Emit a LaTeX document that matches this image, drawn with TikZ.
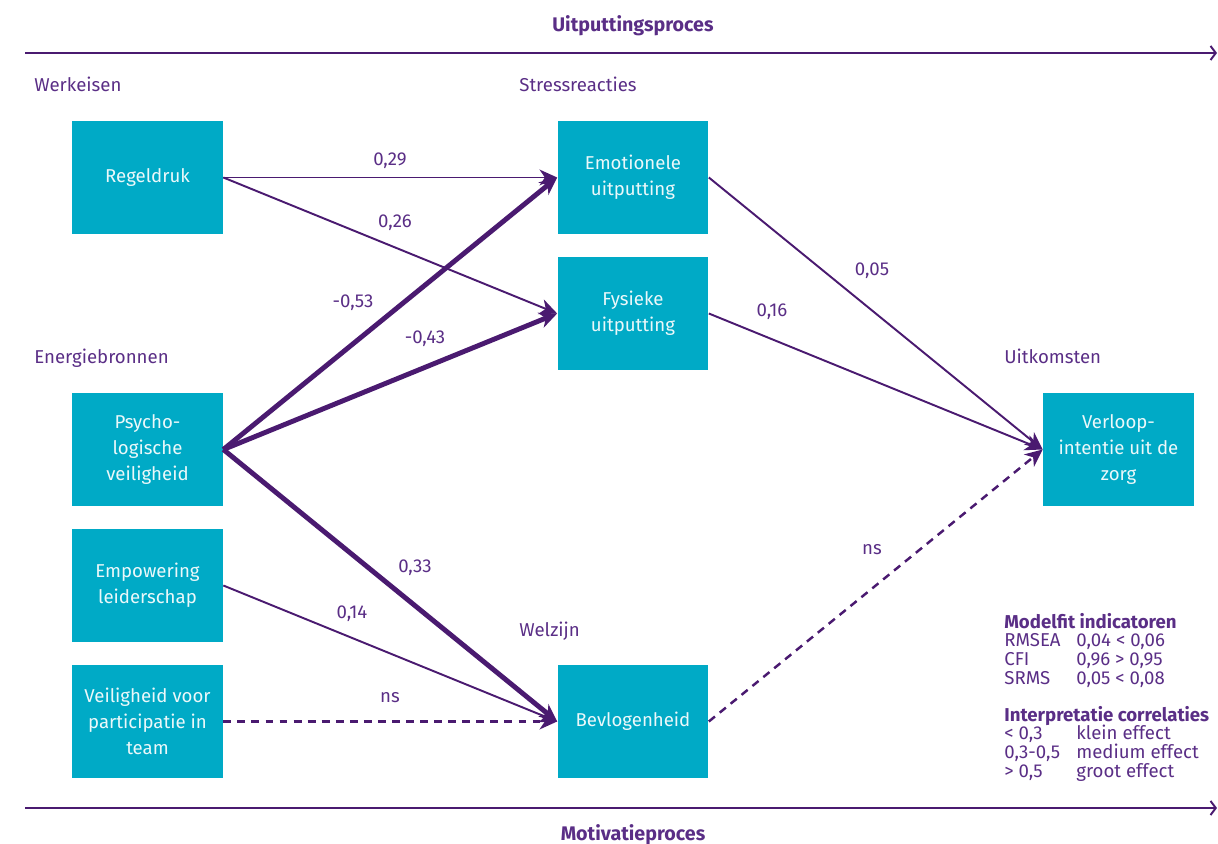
\documentclass[tikz,border=0pt]{standalone}
\usepackage{fontspec}
\setmainfont{Fira Sans}
\usetikzlibrary{arrows.meta,positioning}
\definecolor{boxblue}{HTML}{00AAC6}
\definecolor{deeppurple}{HTML}{4A1A70}
\definecolor{textpurple}{HTML}{5A2E86}
\tikzset{>={Stealth[length=10pt,width=9pt,inset=3pt]}}
\tikzset{factor/.style={fill=boxblue, text=white!92!boxblue, minimum width=3.02cm, minimum height=2.26cm,
    inner sep=0pt, align=center, font=\fontsize{10.6}{14.7}\selectfont}}
\tikzset{group/.style={anchor=base west, text=textpurple, inner sep=0pt, font=\fontsize{10.6}{12}\selectfont}}
\tikzset{coef/.style={text=textpurple, inner sep=0pt, font=\fontsize{10.6}{12}\selectfont}}
\tikzset{effect/.style={->, draw=deeppurple, line width=1.1pt}}
\tikzset{strongeffect/.style={->, draw=deeppurple, line width=2.8pt}}
\tikzset{nseffect/.style={->, draw=deeppurple, line width=1.4pt, dash pattern=on 4.5pt off 3.5pt}}
\tikzset{process/.style={-{Straight Barb[length=3pt,width=8pt]}, draw=deeppurple, line width=1.1pt}}

\begin{document}
\begin{tikzpicture}[x=0.02cm, y=-0.02cm]
      \useasboundingbox (0,0) rectangle (1218,844);
      % processes
      \node[coef, font=\fontsize{11.2}{12}\selectfont\bfseries] (uit) at (633,26) {Uitputtingsproces};
      \node[coef, font=\fontsize{11.2}{12}\selectfont\bfseries] (mot) at (633,835) {Motivatieproces};
      \coordinate (ua) at (25,53);
      \coordinate (ub) at (1217,53);
      \coordinate (ma) at (25,808);
      \coordinate (mb) at (1217,808);
      \draw[process] (ua) -- (ub);
      \draw[process] (ma) -- (mb);
      % group headers
      \node[group] (werk) at (34,92) {Werkeisen};
      \node[group] (stress) at (519,92) {Stressreacties};
      \node[group] (energie) at (34,364) {Energiebronnen};
      \node[group] (uitk) at (1004,364) {Uitkomsten};
      \node[group] (welzijn) at (519,637) {Welzijn};
      % factors
      \node[factor] (reg) at (147.5,177.5) {Regeldruk};
      \node[factor] (psy) at (147.5,449.5) {Psycho-\\logische\\veiligheid};
      \node[factor] (emp) at (147.5,585.5) {Empowering\\leiderschap};
      \node[factor] (vei) at (147.5,721.5) {Veiligheid voor\\participatie in\\team};
      \node[factor] (emo) at (633,177.5) {Emotionele\\uitputting};
      \node[factor] (fys) at (633,313.5) {Fysieke\\uitputting};
      \node[factor] (bev) at (633,721.5) {Bevlogenheid};
      \node[factor] (ver) at (1118.5,449.5) {Verloop-\\intentie uit de\\zorg};
      % paths
      \draw[effect] (reg.east) -- (emo.west);
      \draw[effect] (reg.east) -- (fys.west);
      \draw[strongeffect] (psy.east) -- (emo.west);
      \draw[strongeffect] (psy.east) -- (fys.west);
      \draw[strongeffect] (psy.east) -- (bev.west);
      \draw[effect] (emp.east) -- (bev.west);
      \draw[nseffect] (vei.east) -- (bev.west);
      \draw[effect] (emo.east) -- (ver.west);
      \draw[effect] (fys.east) -- (ver.west);
      \draw[nseffect] (bev.east) -- (ver.west);
      % coefficients
      \node[coef] (c1) at (390,161) {0,29};
      \node[coef] (c2) at (395,223) {0,26};
      \node[coef] (c3) at (353,303) {-0,53};
      \node[coef] (c4) at (425,339) {-0,43};
      \node[coef] (c5) at (415,568) {0,33};
      \node[coef] (c6) at (352,614) {0,14};
      \node[coef] (c7) at (390,698) {ns};
      \node[coef] (c8) at (872,271) {0,05};
      \node[coef] (c9) at (772,312) {0,16};
      \node[coef] (c10) at (872,550) {ns};
      % legend
      \node[group, font=\fontsize{10.6}{12}\selectfont\bfseries] (fit) at (1004,628) {Modelfit indicatoren};
      \node[group] (f1) at (1004,646) {RMSEA};
      \node[group] (f1v) at (1076,646) {0,04 < 0,06};
      \node[group] (f2) at (1004,665) {CFI};
      \node[group] (f2v) at (1076,665) {0,96 > 0,95};
      \node[group] (f3) at (1004,684) {SRMS};
      \node[group] (f3v) at (1076,684) {0,05 < 0,08};
      \node[group, font=\fontsize{10.6}{12}\selectfont\bfseries] (corr) at (1004,721) {Interpretatie correlaties};
      \node[group] (r1) at (1004,739) {< 0,3};
      \node[group] (r1v) at (1076,739) {klein effect};
      \node[group] (r2) at (1004,758) {0,3-0,5};
      \node[group] (r2v) at (1076,758) {medium effect};
      \node[group] (r3) at (1004,777) {> 0,5};
      \node[group] (r3v) at (1076,777) {groot effect};
\end{tikzpicture}
\end{document}
